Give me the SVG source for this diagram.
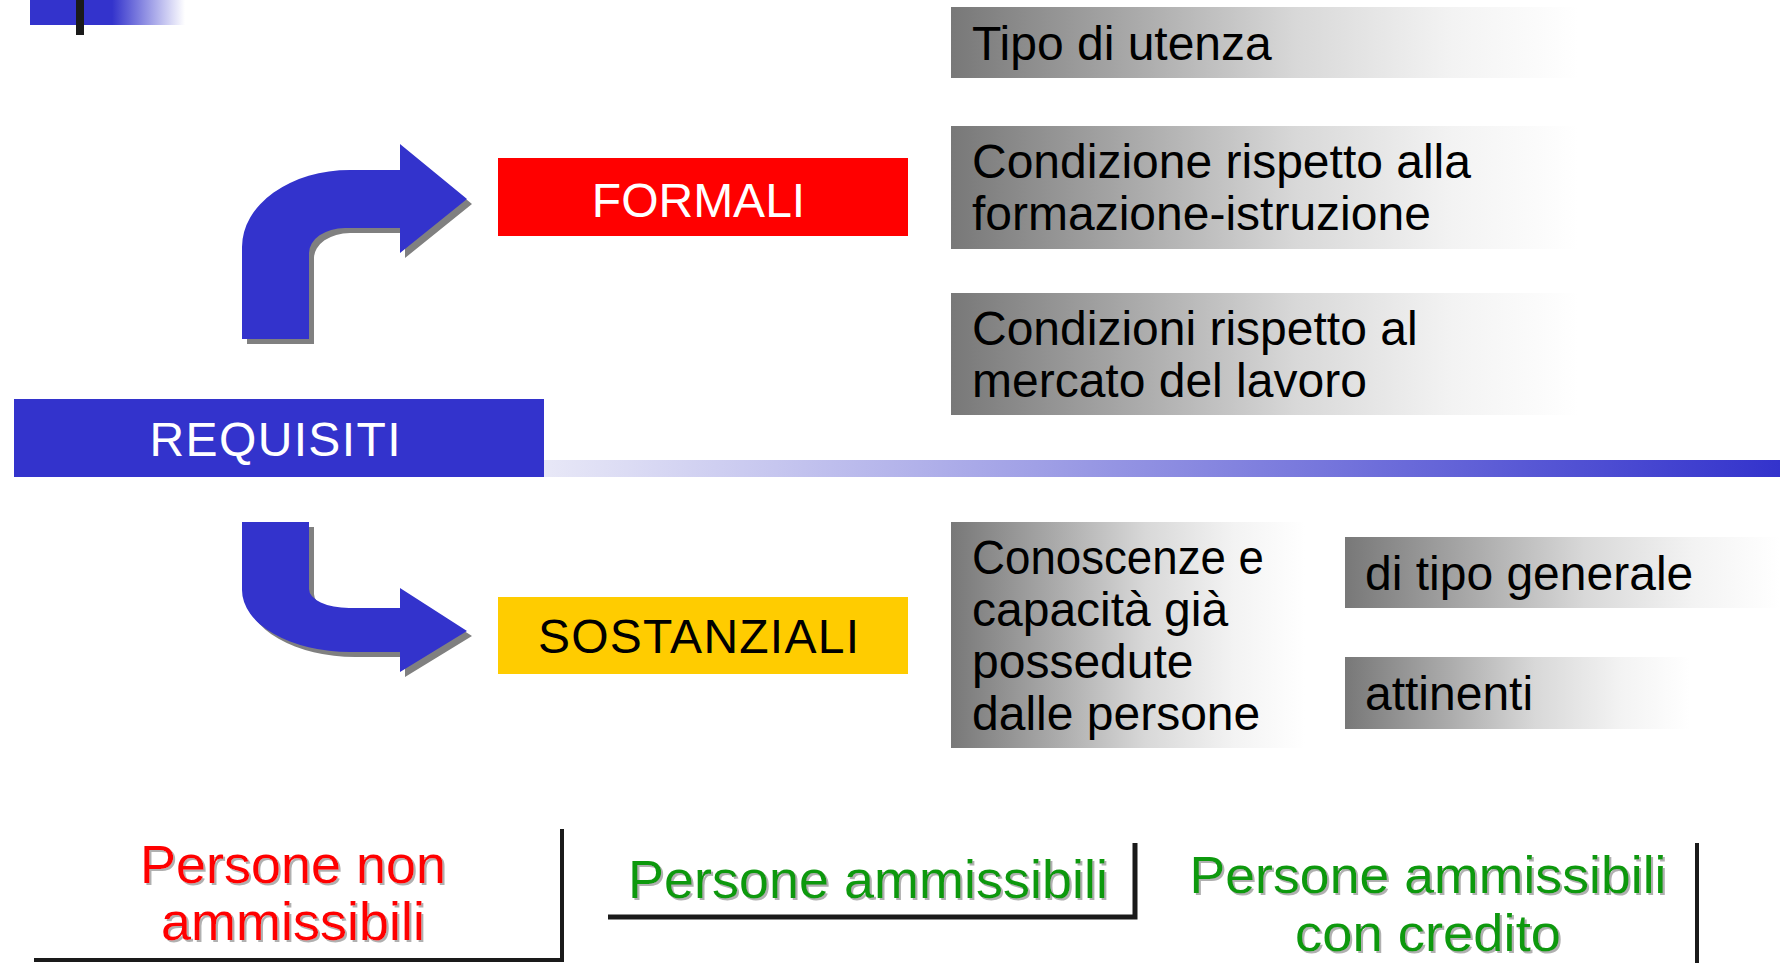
<svg xmlns="http://www.w3.org/2000/svg" xmlns:xlink="http://www.w3.org/1999/xlink" width="1780" height="963" viewBox="0 0 1780 963">
<defs>
<style>
.t{font-family:"Liberation Sans",Arial,sans-serif}
.gray{font-size:48px;fill:#000}
.big{font-size:48px}
.bot{font-size:54px;text-anchor:middle;filter:url(#tsh)}
.bot2{font-size:52px;text-anchor:middle;filter:url(#tsh)}
.arrow{fill:#3333cc}
.ashadow{fill:#808080}
.brk{stroke:#1a1a1a;fill:none}
</style>
<linearGradient id="gg" x1="0" y1="0" x2="1" y2="0">
<stop offset="0" stop-color="#787878"/>
<stop offset="0.3" stop-color="#ababab"/>
<stop offset="0.55" stop-color="#d8d8d8"/>
<stop offset="0.8" stop-color="#f3f3f3"/>
<stop offset="1" stop-color="#ffffff"/>
</linearGradient>
<linearGradient id="lineg" x1="0" y1="0" x2="1" y2="0">
<stop offset="0" stop-color="#e8e8f7"/>
<stop offset="1" stop-color="#3333cc"/>
</linearGradient>
<linearGradient id="topg" x1="30" y1="0" x2="185" y2="0" gradientUnits="userSpaceOnUse">
<stop offset="0" stop-color="#3333cc"/>
<stop offset="0.53" stop-color="#3333cc"/>
<stop offset="1" stop-color="#ffffff"/>
</linearGradient>
<filter id="tsh" x="-10%" y="-20%" width="120%" height="140%">
<feDropShadow dx="2" dy="2" stdDeviation="0" flood-color="#b0b0b0" flood-opacity="1"/>
</filter>
<path id="upArrow" d="M242,339 L242,247 A108,77 0 0 1 350,170 L400,170 L400,144 L467,199 L400,253 L400,228 L345,228 A36,25 0 0 0 309,253 L309,339 Z"/>
<path id="downArrow" d="M242,522 L309,522 L309,589 A40,19 0 0 0 349,608 L400,608 L400,588 L467,631 L400,672 L400,652 L350,652 A108,62 0 0 1 242,590 Z"/>
</defs>
<rect width="1780" height="963" fill="#ffffff"/>

<g id="corner">
<rect x="30" y="0" width="155" height="25" fill="url(#topg)"/>
<rect x="76" y="0" width="8" height="35" fill="#1a1a1a"/>
</g>

<g id="divider">
<rect x="544" y="460" width="1236" height="17" fill="url(#lineg)"/>
</g>

<g id="connectors">
<use xlink:href="#upArrow" class="ashadow" transform="translate(5,5)"/>
<use xlink:href="#upArrow" class="arrow"/>
<use xlink:href="#downArrow" class="ashadow" transform="translate(5,5)"/>
<use xlink:href="#downArrow" class="arrow"/>
</g>

<g id="requisiti">
<rect x="14" y="399" width="530" height="78" fill="#3333cc"/>
<text class="t big" x="275" y="456" fill="#ffffff" text-anchor="middle" textLength="251" lengthAdjust="spacing">REQUISITI</text>
</g>

<g id="formali">
<rect x="498" y="158" width="410" height="78" fill="#ff0000"/>
<text class="t big" x="698.5" y="217" fill="#ffffff" text-anchor="middle">FORMALI</text>
</g>

<g id="sostanziali">
<rect x="498" y="597" width="410" height="77" fill="#ffcc00"/>
<text class="t big" x="698.5" y="653" fill="#000000" text-anchor="middle" textLength="321" lengthAdjust="spacing">SOSTANZIALI</text>
</g>

<g id="tipo">
<rect x="951" y="7" width="627" height="71" fill="url(#gg)"/>
<text class="t gray" x="972" y="60">Tipo di utenza</text>
</g>

<g id="condizione">
<rect x="951" y="126" width="627" height="123" fill="url(#gg)"/>
<text class="t gray" x="972" y="178">Condizione rispetto alla</text>
<text class="t gray" x="972" y="230">formazione-istruzione</text>
</g>

<g id="condizioni">
<rect x="951" y="293" width="627" height="122" fill="url(#gg)"/>
<text class="t gray" x="972" y="345">Condizioni rispetto al</text>
<text class="t gray" x="972" y="397">mercato del lavoro</text>
</g>

<g id="conoscenze">
<rect x="951" y="522" width="354" height="226" fill="url(#gg)"/>
<text class="t gray" x="972" y="574" textLength="292" lengthAdjust="spacingAndGlyphs">Conoscenze e</text>
<text class="t gray" x="972" y="626">capacità già</text>
<text class="t gray" x="972" y="678">possedute</text>
<text class="t gray" x="972" y="730">dalle persone</text>
</g>

<g id="generale">
<rect x="1345" y="537" width="435" height="71" fill="url(#gg)"/>
<text class="t gray" x="1365" y="590">di tipo generale</text>
</g>

<g id="attinenti">
<rect x="1345" y="657" width="345" height="72" fill="url(#gg)"/>
<text class="t gray" x="1365" y="710">attinenti</text>
</g>

<g id="non-ammissibili">
<path class="brk" d="M34,960 L562,960 L562,829" stroke-width="4"/>
<text class="t bot" x="293" y="883" fill="#ff0000">Persone non</text>
<text class="t bot" x="293" y="940" fill="#ff0000">ammissibili</text>
</g>

<g id="ammissibili">
<path class="brk" d="M608,917 L1135,917 L1135,843" stroke-width="5"/>
<text class="t bot" x="868" y="898" fill="#119911">Persone ammissibili</text>
</g>

<g id="ammissibili-credito">
<path class="brk" d="M1697,843 L1697,963" stroke-width="4"/>
<text class="t bot2" x="1428" y="893" fill="#119911" textLength="477" lengthAdjust="spacingAndGlyphs">Persone ammissibili</text>
<text class="t bot2" x="1428" y="951" fill="#119911" textLength="266" lengthAdjust="spacingAndGlyphs">con credito</text>
</g>
</svg>
